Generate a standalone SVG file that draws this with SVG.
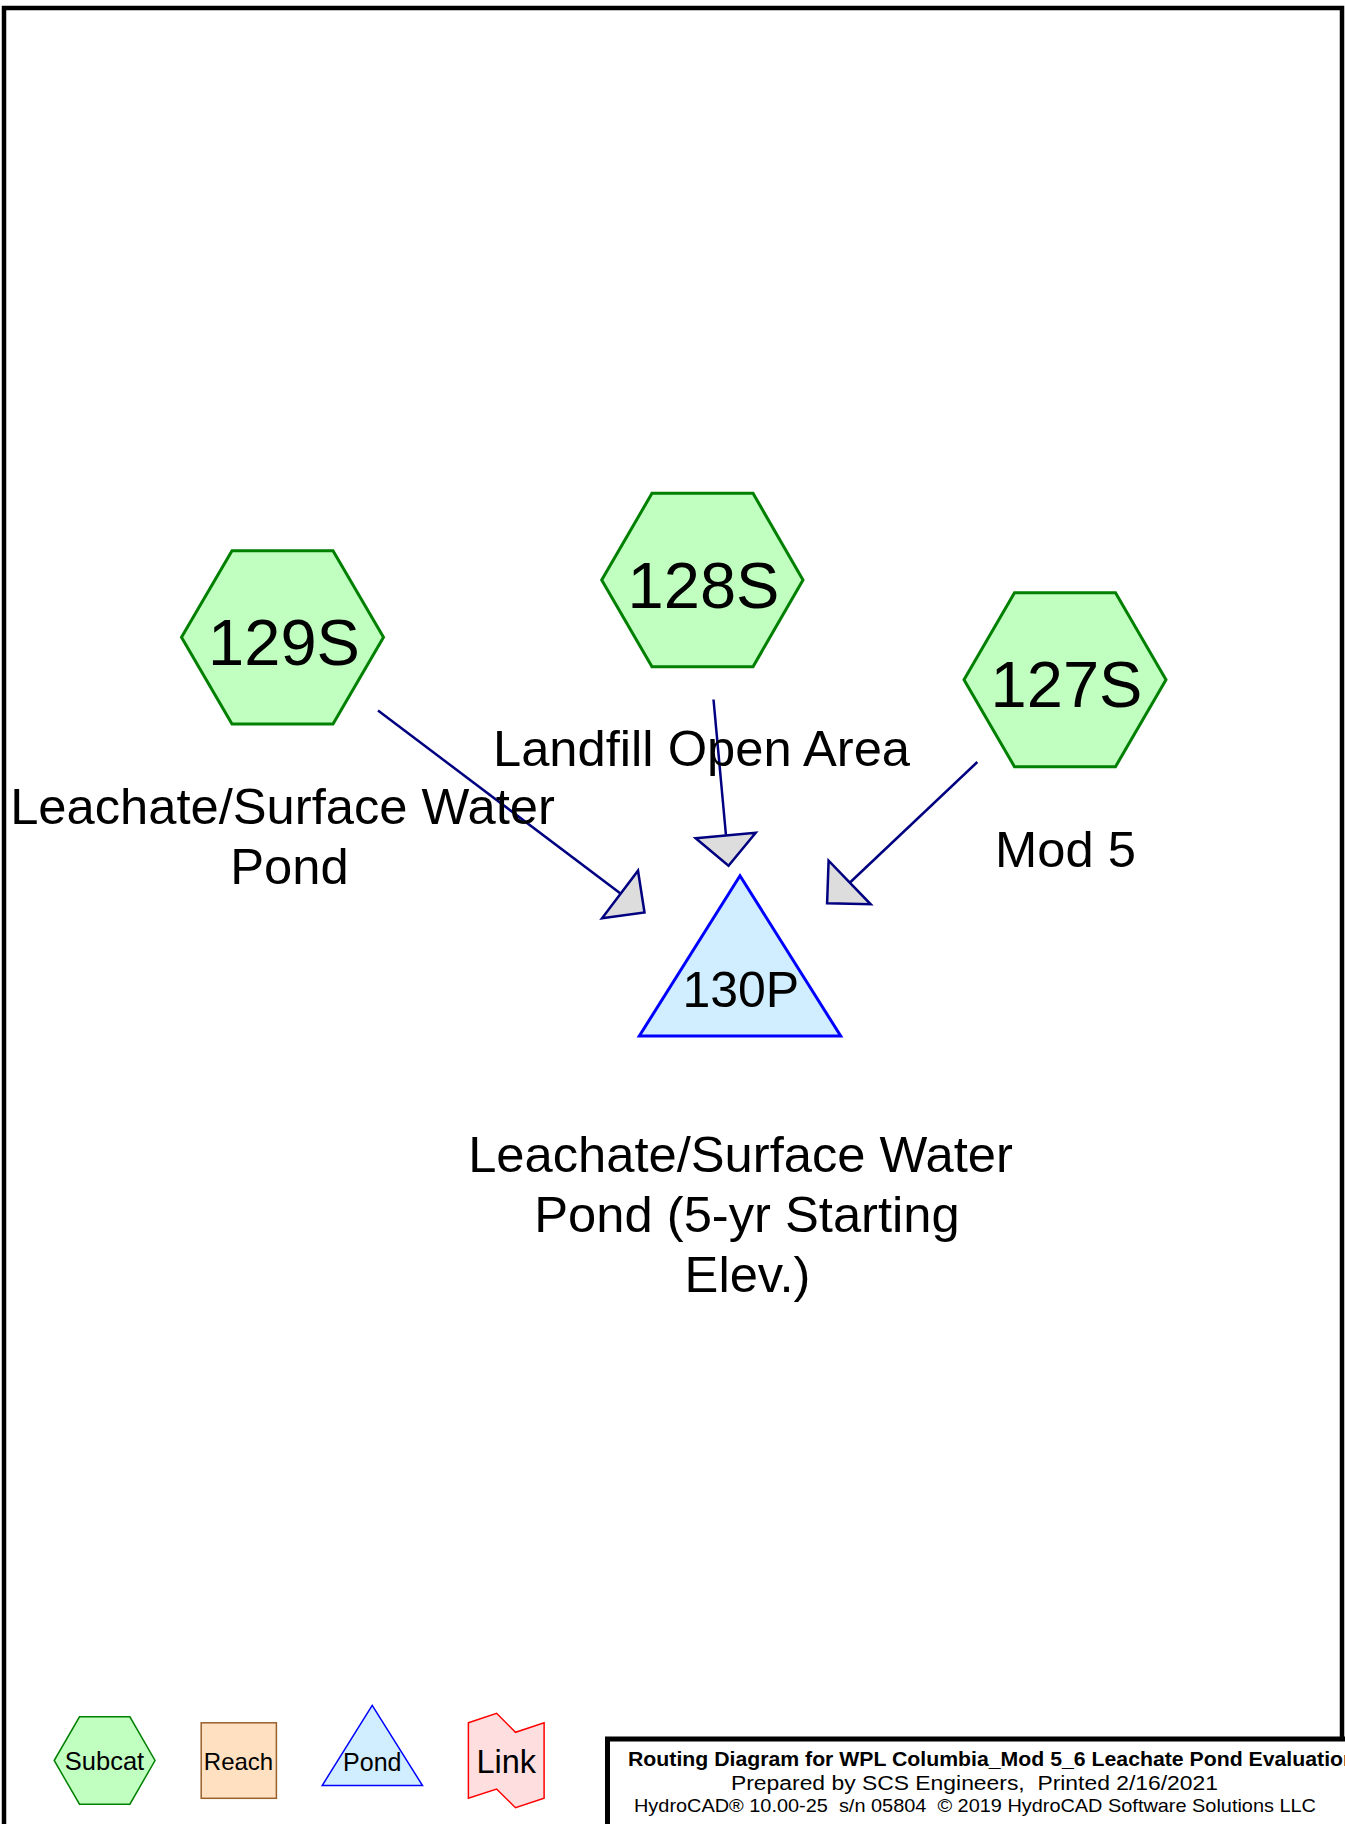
<svg xmlns="http://www.w3.org/2000/svg" width="1345" height="1824" viewBox="0 0 1345 1824">
<style>
text{font-family:"Liberation Sans",Arial,sans-serif;fill:#000}
.hex{fill:#C0FFC0;stroke:#008000;stroke-width:3}
.pond{fill:#D0EEFF;stroke:#0000FF;stroke-width:3}
.id{font-size:65px;text-anchor:middle}
.lbl{font-size:50.7px;text-anchor:middle}
.conn{stroke:#000080;stroke-width:2.5;fill:none}
.ah{fill:#DDDDDD;stroke:#000080;stroke-width:2.5;stroke-linejoin:miter}
.leg{font-size:25px;text-anchor:middle}
.tb{white-space:pre}
</style>
<rect x="0" y="0" width="1345" height="1824" fill="#fff"/>
<rect x="4" y="8" width="1338" height="1840" fill="none" stroke="#000" stroke-width="4.5"/>

<g id="connectors">
  <line class="conn" x1="378" y1="710.5" x2="620.5" y2="893.5"/>
  <polygon class="ah" points="602,918.3 644.5,912.5 638,870.7"/>
  <line class="conn" x1="713.5" y1="699.5" x2="726" y2="835.5"/>
  <polygon class="ah" points="695.7,838.3 728.5,865.7 755.7,832.7"/>
  <line class="conn" x1="977.3" y1="762" x2="850" y2="882.5"/>
  <polygon class="ah" points="828.6,860.7 827.1,903.3 870.7,904.3"/>
</g>

<g id="node-129S">
  <polygon class="hex" points="181.5,637.3 232,550.7 333,550.7 383.5,637.3 333,724 232,724"/>
  <text class="id" x="284" y="665">129S</text>
  <text class="lbl" x="282.5" y="823.7">Leachate/Surface Water</text>
  <text class="lbl" x="289.5" y="883.7">Pond</text>
</g>

<g id="node-128S">
  <polygon class="hex" points="601.7,580 652,493.3 753,493.3 803,580 753,666.7 652,666.7"/>
  <text class="id" x="703.5" y="607.7">128S</text>
  <text class="lbl" x="701.5" y="766">Landfill Open Area</text>
</g>

<g id="node-127S">
  <polygon class="hex" points="964,679.7 1014.5,592.7 1115.5,592.7 1166,679.7 1115.5,766.7 1014.5,766.7"/>
  <text class="id" x="1066.5" y="706.7">127S</text>
  <text class="lbl" x="1065.5" y="866.8">Mod 5</text>
</g>

<g id="node-130P">
  <polygon class="pond" points="740,875.7 840.7,1036 639.3,1036"/>
  <text x="740.8" y="1007.3" style="font-size:50px;text-anchor:middle">130P</text>
  <text class="lbl" x="740.5" y="1171.6">Leachate/Surface Water</text>
  <text class="lbl" x="747" y="1231.6">Pond (5-yr Starting</text>
  <text class="lbl" x="747.5" y="1291.6">Elev.)</text>
</g>

<g id="legend">
  <g id="legend-subcat">
    <polygon points="54.2,1760.5 79.5,1716.8 129.9,1716.8 155,1760.5 129.9,1804.2 79.5,1804.2" fill="#C0FFC0" stroke="#008000" stroke-width="1.5"/>
    <text class="leg" x="104.5" y="1770" style="font-size:25.5px">Subcat</text>
  </g>
  <g id="legend-reach">
    <rect x="201.2" y="1722.8" width="75.2" height="75.5" fill="#FFE0C0" stroke="#99602A" stroke-width="1.5"/>
    <text class="leg" x="238.5" y="1770" style="font-size:24px">Reach</text>
  </g>
  <g id="legend-pond">
    <polygon points="372.2,1705.3 422.5,1785.5 322.2,1785.5" fill="#D0EEFF" stroke="#0000FF" stroke-width="1.5"/>
    <text class="leg" x="372.3" y="1770.7">Pond</text>
  </g>
  <g id="legend-link">
    <polygon points="468.4,1722.7 496.6,1713.3 515.5,1732.3 544.1,1722.7 544.1,1798.3 515.5,1807.7 496.6,1789 468.4,1798.3" fill="#FFDEE0" stroke="#FF0000" stroke-width="1.5"/>
    <text class="leg" x="506.3" y="1773.3" style="font-size:32.5px">Link</text>
  </g>
</g>

<g id="title-block">
  <rect x="607.5" y="1739" width="800" height="200" fill="#fff" stroke="#000" stroke-width="5"/>
  <text class="tb" x="628" y="1765.5" style="font-size:20px;font-weight:bold" textLength="728" lengthAdjust="spacingAndGlyphs">Routing Diagram for WPL Columbia_Mod 5_6 Leachate Pond Evaluation</text>
  <text class="tb" x="731" y="1789.5" style="font-size:20px" textLength="487" lengthAdjust="spacingAndGlyphs">Prepared by SCS Engineers,  Printed 2/16/2021</text>
  <text class="tb" x="634" y="1811.5" style="font-size:19px" textLength="682" lengthAdjust="spacingAndGlyphs">HydroCAD® 10.00-25  s/n 05804  © 2019 HydroCAD Software Solutions LLC</text>
</g>
</svg>
